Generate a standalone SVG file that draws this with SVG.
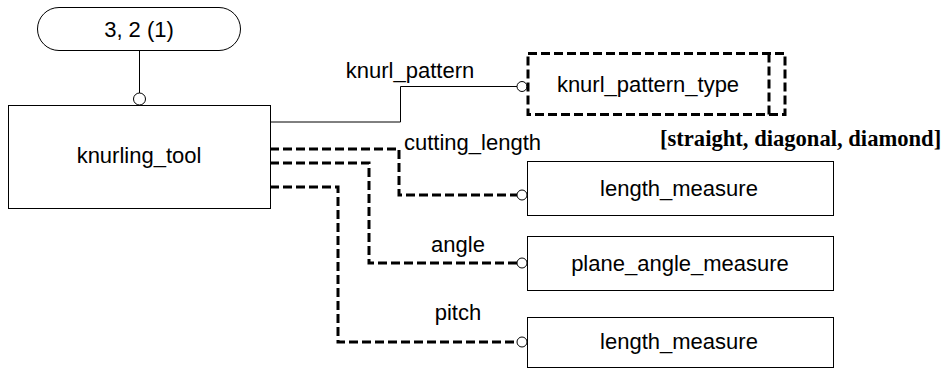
<svg xmlns="http://www.w3.org/2000/svg" width="944" height="369" viewBox="0 0 944 369">
<style>
.box{fill:#fff;stroke:#000;stroke-width:1}
.thin{fill:none;stroke:#000;stroke-width:1}
.dash{fill:none;stroke:#000;stroke-width:3;stroke-dasharray:9,4}
.end{fill:#fff;stroke:#000;stroke-width:1}
.t{font-family:"Liberation Sans",Arial,sans-serif;font-size:22px;fill:#000;text-anchor:middle}
.lbl{font-family:"Liberation Serif","Times New Roman",serif;font-size:22.6px;font-weight:bold;fill:#000}
</style>
<rect width="944" height="369" fill="#fff"/>
<g id="connectors">
  <path class="thin" d="M139.5,51 V93"/>
  <circle class="end" cx="139.5" cy="99" r="6"/>
  <path class="thin" d="M270,122 H400.5 V86.5 H517"/>
  <circle class="end" cx="522" cy="86.5" r="5"/>
  <text class="t" x="410" y="78">knurl_pattern</text>
  <path class="dash" d="M270,149 H399 V195 H517"/>
  <circle class="end" cx="522" cy="195" r="5"/>
  <text class="t" x="472.5" y="150">cutting_length</text>
  <path class="dash" d="M270,163 H369 V263 H517"/>
  <circle class="end" cx="522" cy="263" r="5"/>
  <text class="t" x="458" y="252">angle</text>
  <path class="dash" d="M270,187 H338 V342 H517"/>
  <circle class="end" cx="522" cy="342" r="5"/>
  <text class="t" x="458" y="320">pitch</text>
</g>
<g id="ref_3_2_1">
  <rect class="box" x="37.5" y="7.5" width="203" height="43" rx="21.5" ry="21.5"/>
  <text class="t" x="139" y="37">3, 2 (1)</text>
</g>
<g id="knurling_tool">
  <rect class="box" x="8.5" y="105.5" width="262" height="103"/>
  <text class="t" x="139" y="163">knurling_tool</text>
</g>
<g id="knurl_pattern_type">
  <rect class="dash" x="528" y="53.5" width="257" height="61"/>
  <path class="dash" d="M769,53.5 V114.5"/>
  <text class="t" x="648" y="92">knurl_pattern_type</text>
  <text class="lbl" x="660" y="146">[straight, diagonal, diamond]</text>
</g>
<g id="length_measure_1">
  <rect class="box" x="527.5" y="161.5" width="306" height="54"/>
  <text class="t" x="679" y="196">length_measure</text>
</g>
<g id="plane_angle_measure">
  <rect class="box" x="527.5" y="236.5" width="306" height="54"/>
  <text class="t" x="680" y="271">plane_angle_measure</text>
</g>
<g id="length_measure_2">
  <rect class="box" x="527.5" y="317.5" width="306" height="50"/>
  <text class="t" x="679" y="349">length_measure</text>
</g>
</svg>
